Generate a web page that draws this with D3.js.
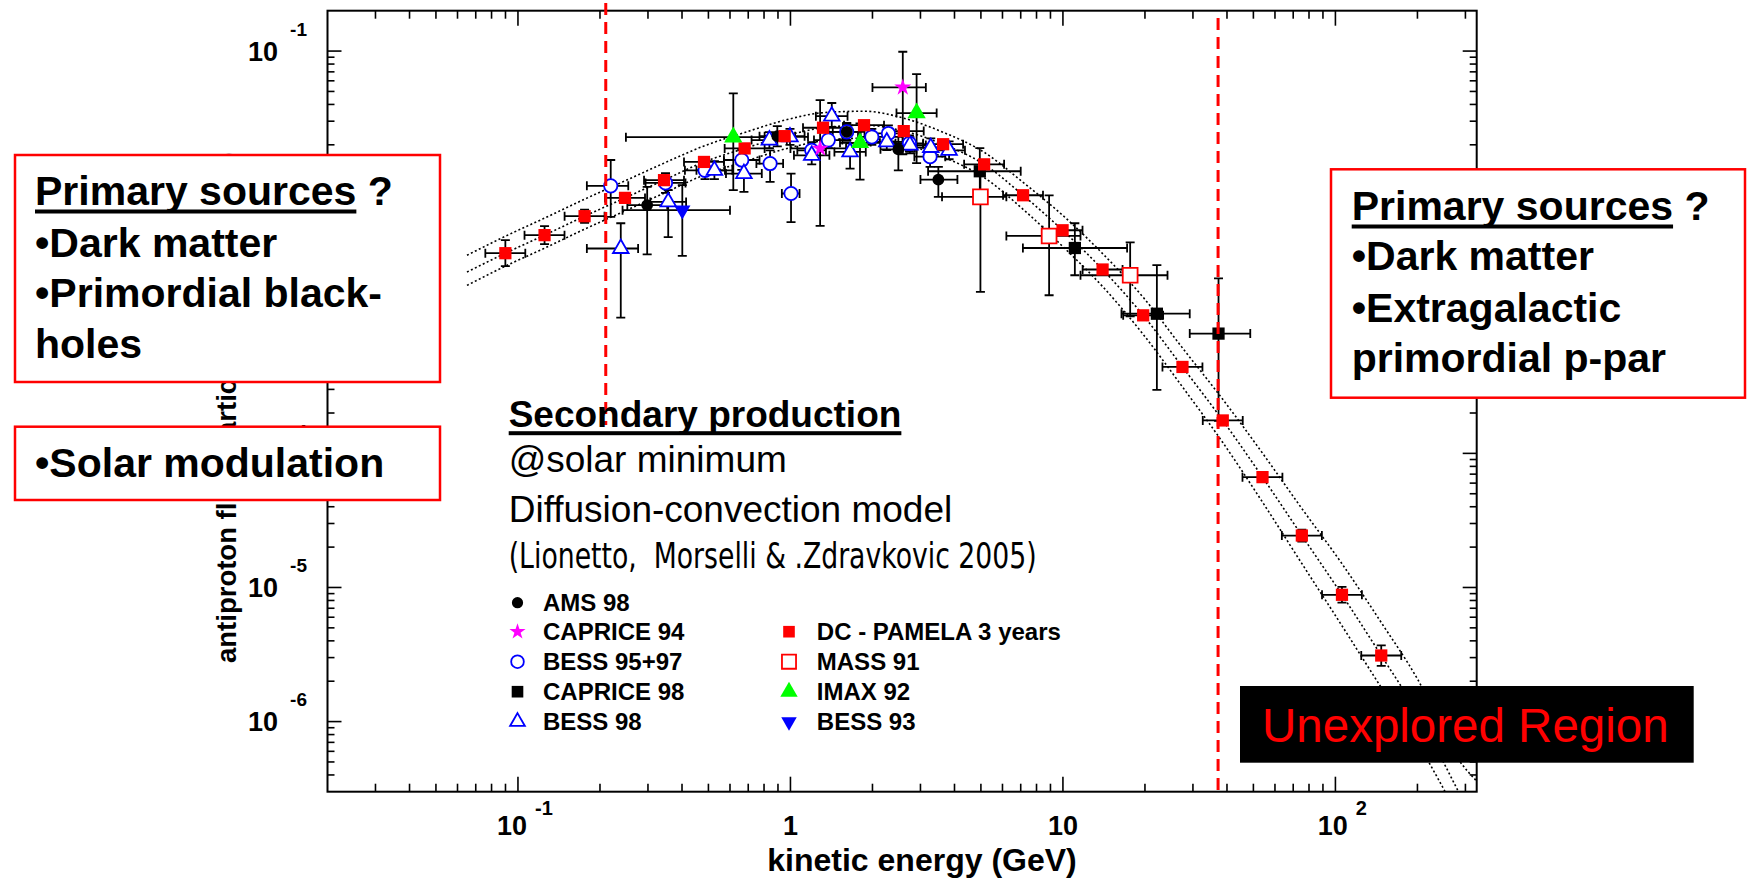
<!DOCTYPE html>
<html>
<head>
<meta charset="utf-8">
<script src="https://cdn.jsdelivr.net/npm/d3@7"></script>
<style>
  body { margin: 0; background: #fff; }
  svg { display: block; font-family: "Liberation Sans", Arial, Helvetica, sans-serif; }
</style>
</head>
<body>
<div id="chart"></div>
<script>
// rows: [energy GeV, flux, Emin, Emax, fluxMin, fluxMax]
const ams98 = [
  [0.298, 7.1e-3, 0.252, 0.353, 3.05e-3, 9.7e-3],
  [0.895, 2.32e-2, 0.77, 1.04, 1.95e-2, 2.76e-2],
  [1.609, 2.50e-2, 1.38, 1.87, 2.14e-2, 2.91e-2],
  [2.489, 1.85e-2, 2.14, 2.90, 1.29e-2, 2.29e-2],
  [3.49, 1.10e-2, 3.0, 4.1, 8.18e-3, 1.37e-2]
];
const caprice94 = [
  [1.285, 1.88e-2, 1.0, 1.6, 4.97e-3, 4.3e-2],
  [2.584, 5.36e-2, 2.0, 3.14, 1.7e-2, 9.88e-2]
];
const bess9597 = [
  [0.219, 9.88e-3, 0.179, 0.254, 5.8e-3, 1.54e-2],
  [0.348, 1.04e-2, 0.294, 0.412, 8.76e-3, 1.23e-2],
  [0.486, 1.29e-2, 0.41, 0.575, 1.11e-2, 1.51e-2],
  [0.663, 1.54e-2, 0.57, 0.77, 1.30e-2, 1.83e-2],
  [0.842, 1.45e-2, 0.75, 0.94, 1.06e-2, 1.82e-2],
  [1.005, 8.67e-3, 0.93, 1.08, 5.3e-3, 1.22e-2],
  [1.197, 1.82e-2, 1.06, 1.35, 1.59e-2, 2.09e-2],
  [1.377, 2.17e-2, 1.22, 1.55, 1.89e-2, 2.49e-2],
  [1.609, 2.50e-2, 1.43, 1.81, 2.18e-2, 2.87e-2],
  [1.989, 2.29e-2, 1.77, 2.24, 2.00e-2, 2.63e-2],
  [2.288, 2.43e-2, 2.03, 2.57, 2.12e-2, 2.79e-2],
  [2.733, 2.05e-2, 2.43, 3.07, 1.79e-2, 2.35e-2],
  [3.254, 1.63e-2, 2.85, 3.70, 1.37e-2, 1.93e-2]
];
const caprice98 = [
  [4.954, 1.27e-2, 3.2, 7.0, 8.4e-3, 1.89e-2],
  [11.06, 3.40e-3, 7.13, 17.2, 2.13e-3, 5.2e-3],
  [22.12, 1.10e-3, 16.4, 29.2, 2.98e-4, 2.53e-3],
  [37.24, 7.82e-4, 29.2, 48.7, 1.75e-4, 2.02e-3]
];
const bess98 = [
  [0.2384, 3.37e-3, 0.179, 0.276, 1.03e-3, 5.2e-3],
  [0.356, 7.5e-3, 0.306, 0.414, 4.1e-3, 9.18e-3],
  [0.526, 1.29e-2, 0.452, 0.612, 1.11e-2, 1.51e-2],
  [0.675, 1.22e-2, 0.58, 0.785, 8.9e-3, 1.54e-2],
  [0.837, 2.17e-2, 0.72, 0.97, 1.89e-2, 2.49e-2],
  [0.996, 2.29e-2, 0.86, 1.16, 2.00e-2, 2.63e-2],
  [1.197, 1.67e-2, 1.03, 1.39, 1.43e-2, 1.95e-2],
  [1.418, 3.27e-2, 1.24, 1.62, 2.72e-2, 4.1e-2],
  [1.655, 1.77e-2, 1.45, 1.89, 1.33e-2, 2.05e-2],
  [2.257, 2.10e-2, 1.97, 2.58, 1.83e-2, 2.41e-2],
  [2.744, 1.99e-2, 2.40, 3.14, 1.73e-2, 2.28e-2],
  [3.273, 1.91e-2, 2.86, 3.75, 1.64e-2, 2.23e-2],
  [3.821, 1.82e-2, 3.34, 4.37, 1.56e-2, 2.12e-2]
];
const pamela = [
  [0.0899, 3.11e-3, 0.0759, 0.1064, 2.49e-3, 3.89e-3],
  [0.1252, 4.24e-3, 0.1057, 0.1482, 3.63e-3, 4.95e-3],
  [0.1756, 5.87e-3, 0.1483, 0.2079, 5.24e-3, 6.57e-3],
  [0.2471, 8.04e-3, 0.2087, 0.2926, 7.38e-3, 8.76e-3],
  [0.3436, 1.09e-2, 0.2902, 0.4068, 1.02e-2, 1.17e-2],
  [0.4817, 1.49e-2, 0.4068, 0.5703, 1.41e-2, 1.57e-2],
  [0.679, 1.88e-2, 0.5735, 0.8039, 1.79e-2, 1.98e-2],
  [0.952, 2.32e-2, 0.804, 1.127, 2.21e-2, 2.44e-2],
  [1.317, 2.68e-2, 1.112, 1.559, 2.55e-2, 2.82e-2],
  [1.862, 2.80e-2, 1.573, 2.205, 2.66e-2, 2.95e-2],
  [2.605, 2.53e-2, 2.200, 3.084, 2.41e-2, 2.66e-2],
  [3.633, 2.02e-2, 3.068, 4.301, 1.92e-2, 2.12e-2],
  [5.137, 1.43e-2, 4.339, 6.082, 1.36e-2, 1.50e-2],
  [7.14, 8.41e-3, 6.03, 8.45, 8.0e-3, 8.84e-3],
  [9.97, 4.61e-3, 8.42, 11.80, 4.39e-3, 4.85e-3],
  [13.98, 2.35e-3, 11.81, 16.55, 2.24e-3, 2.47e-3],
  [19.70, 1.07e-3, 16.64, 23.32, 1.02e-3, 1.12e-3],
  [27.46, 4.41e-4, 23.19, 32.51, 4.20e-4, 4.63e-4],
  [38.6, 1.76e-4, 32.6, 45.7, 1.66e-4, 1.87e-4],
  [54.0, 6.65e-5, 45.6, 63.9, 6.1e-5, 7.25e-5],
  [75.3, 2.44e-5, 63.6, 89.2, 2.2e-5, 2.7e-5],
  [105.7, 8.82e-6, 89.3, 125.1, 7.7e-6, 1.01e-5],
  [147.3, 3.11e-6, 124.4, 174.4, 2.6e-6, 3.7e-6]
];
const mass91 = [
  [4.98, 8.18e-3, 3.6, 6.2, 1.6e-3, 1.3e-2],
  [8.898, 4.18e-3, 6.2, 11.6, 1.51e-3, 8.4e-3],
  [17.65, 2.13e-3, 11.6, 24.2, 1.05e-3, 3.75e-3]
];
const imax92 = [
  [0.617, 2.28e-2, 0.249, 0.834, 9.2e-3, 4.83e-2],
  [1.80, 2.07e-2, 1.52, 2.13, 1.10e-2, 2.89e-2],
  [2.904, 3.45e-2, 2.45, 3.44, 1.46e-2, 6.73e-2]
];
const bess93 = [
  [0.401, 6.51e-3, 0.242, 0.600, 2.97e-3, 1.0e-2]
];

// diffusion-convection model band (central, upper, lower)
const modelE = [0.065, 0.0899, 0.1252, 0.1756, 0.2471, 0.3436, 0.4817, 0.679, 0.952, 1.317, 1.862, 2.605, 3.633, 5.137, 7.14, 9.97, 13.98, 19.70, 27.46, 38.6, 54.0, 75.3, 105.7, 147.3, 200, 283, 330];
const modelMid = [2.25e-3, 3.11e-3, 4.24e-3, 5.87e-3, 8.04e-3, 1.09e-2, 1.49e-2, 1.88e-2, 2.32e-2, 2.68e-2, 2.80e-2, 2.53e-2, 2.02e-2, 1.43e-2, 8.41e-3, 4.61e-3, 2.35e-3, 1.07e-3, 4.41e-4, 1.76e-4, 6.65e-5, 2.44e-5, 8.82e-6, 3.11e-6, 1.16e-6, 3.0e-7, 1.64e-7];
const modelHigh = [3.00e-3, 4.16e-3, 5.68e-3, 7.86e-3, 1.077e-2, 1.46e-2, 1.96e-2, 2.47e-2, 3.05e-2, 3.47e-2, 3.56e-2, 3.16e-2, 2.48e-2, 1.76e-2, 1.05e-2, 5.97e-3, 3.09e-3, 1.458e-3, 6.11e-4, 2.53e-4, 1.004e-4, 3.88e-5, 1.503e-5, 5.48e-6, 2.08e-6, 5.2e-7, 3.6e-7];
const modelLow = [1.79e-3, 2.49e-3, 3.39e-3, 4.70e-3, 6.43e-3, 8.72e-3, 1.19e-2, 1.50e-2, 1.86e-2, 2.14e-2, 2.24e-2, 2.02e-2, 1.62e-2, 1.14e-2, 6.61e-3, 3.50e-3, 1.755e-3, 7.72e-4, 3.13e-4, 1.206e-4, 4.33e-5, 1.508e-5, 5.18e-6, 1.795e-6, 6.93e-7, 1.92e-7, 1.0e-7];

// red dashed energy limits
const cutE = [0.21, 37.1];

const xTickVals = [0.1, 1, 10, 100];
const xTickBase = ['10', '1', '10', '10'];
const xTickExp = ['-1', '', '', '2'];
const yTickVals = [1e-1, 1e-2, 1e-3, 1e-4, 1e-5, 1e-6];
const yTickExp = ['-1', '-2', '-3', '-4', '-5', '-6'];

const legendNames = ['AMS 98', 'CAPRICE 94', 'BESS 95+97', 'CAPRICE 98', 'BESS 98',
                     'DC - PAMELA 3 years', 'MASS 91', 'IMAX 92', 'BESS 93'];

const W = 1747, H = 879;

const svg = d3.select('#chart').append('svg')
  .attr('width', W).attr('height', H);

svg.append('rect').attr('width', W).attr('height', H).attr('fill', '#fff');

const x = d3.scaleLog().domain([0.02, 330]).range([327.5, 1476.7]);
const y = d3.scaleLog().domain([3e-7, 0.2]).range([791.7, 10.7]);
const [xl, xr] = x.range();
const [yb, yt] = y.range();

svg.append('clipPath').attr('id', 'plotClip')
  .append('rect').attr('x', xl).attr('y', yt).attr('width', xr - xl).attr('height', yb - yt);

const isMajor = v => Math.abs(Math.log10(v) - Math.round(Math.log10(v))) < 1e-6;

// ticks on all four sides, pointing inwards
const xt = x.ticks().filter(v => v > 0.0201 && v < 330);
const yTicks = y.ticks().filter(v => v > 3.01e-7 && v < 0.2);
const tickG = svg.append('g').attr('stroke', '#000').attr('stroke-width', 1.6);
tickG.selectAll('.xb').data(xt).join('line').attr('class', 'xb')
  .attr('x1', d => x(d)).attr('x2', d => x(d))
  .attr('y1', yb).attr('y2', d => yb - (isMajor(d) ? 15 : 8));
tickG.selectAll('.xt').data(xt).join('line').attr('class', 'xt')
  .attr('x1', d => x(d)).attr('x2', d => x(d))
  .attr('y1', yt).attr('y2', d => yt + (isMajor(d) ? 15 : 8));
tickG.selectAll('.yl').data(yTicks).join('line').attr('class', 'yl')
  .attr('y1', d => y(d)).attr('y2', d => y(d))
  .attr('x1', xl).attr('x2', d => xl + (isMajor(d) ? 14 : 7));
tickG.selectAll('.yr').data(yTicks).join('line').attr('class', 'yr')
  .attr('y1', d => y(d)).attr('y2', d => y(d))
  .attr('x1', xr).attr('x2', d => xr - (isMajor(d) ? 14 : 7));

svg.append('rect')
  .attr('x', xl).attr('y', yt).attr('width', xr - xl).attr('height', yb - yt)
  .attr('fill', 'none').attr('stroke', '#000').attr('stroke-width', 2);

// tick labels (labels with an exponent sit a little right of the tick)
const xLab = svg.selectAll('.xlab').data(xTickVals).join('text').attr('class', 'xlab')
  .attr('x', (d, i) => x(d) + (xTickExp[i] ? 7 : 0)).attr('y', 835)
  .attr('text-anchor', 'middle')
  .attr('font-weight', 'bold').attr('font-size', 27);
xLab.append('tspan').text((d, i) => xTickBase[i]);
xLab.append('tspan').text((d, i) => xTickExp[i])
  .attr('dx', (d, i) => xTickExp[i] ? 8 : 0).attr('dy', -20).attr('font-size', 20);

const yLab = svg.selectAll('.ylab').data(yTickVals).join('text').attr('class', 'ylab')
  .attr('x', 307).attr('y', d => y(d) + 9.5)
  .attr('text-anchor', 'end')
  .attr('font-weight', 'bold').attr('font-size', 27);
yLab.append('tspan').text('10');
yLab.append('tspan').text((d, i) => yTickExp[i])
  .attr('dx', 12).attr('dy', -25).attr('font-size', 19);

// axis titles
svg.append('text')
  .attr('x', 922).attr('y', 871).attr('text-anchor', 'middle')
  .attr('font-weight', 'bold').attr('font-size', 32)
  .text('kinetic energy (GeV)');

const yTitle = svg.append('text')
  .attr('transform', 'translate(236,663) rotate(-90)')
  .attr('font-weight', 'bold').attr('font-size', 27.5);
yTitle.append('tspan').text('antiproton flux (particles/(m');
yTitle.append('tspan').text('2').attr('font-size', 17).attr('dy', -10);
yTitle.append('tspan').text(' sr s GeV))').attr('dy', 10);

// model curves
const line = d3.line().x(d => x(d[0])).y(d => y(d[1])).curve(d3.curveMonotoneX);
[modelHigh, modelMid, modelLow].forEach(arr => {
  svg.append('path')
    .datum(modelE.map((e, i) => [e, arr[i]]))
    .attr('clip-path', 'url(#plotClip)')
    .attr('fill', 'none').attr('stroke', '#000')
    .attr('stroke-width', 1.6).attr('stroke-dasharray', '2,2.4')
    .attr('d', line);
});

// series styles
const series = [
  { rows: bess9597, sym: d3.symbolCircle, size: 140, fill: '#fff', stroke: '#0000ff' },
  { rows: bess98, sym: d3.symbolTriangle, size: 105, fill: '#fff', stroke: '#0000ff' },
  { rows: ams98, sym: d3.symbolCircle, size: 110, fill: '#000', stroke: 'none' },
  { rows: caprice98, sym: d3.symbolSquare, size: 150, fill: '#000', stroke: 'none' },
  { rows: mass91, sym: d3.symbolSquare, size: 220, fill: '#fff', stroke: '#ff0000' },
  { rows: caprice94, sym: d3.symbolStar, size: 90, fill: '#ff00ff', stroke: 'none' },
  { rows: bess93, sym: d3.symbolTriangle, size: 115, fill: '#0000ff', stroke: 'none', rot: 180 },
  { rows: pamela, sym: d3.symbolSquare, size: 150, fill: '#ff0000', stroke: 'none' },
  { rows: imax92, sym: d3.symbolTriangle, size: 145, fill: '#00ff00', stroke: 'none' }
];

const cap = 4.5;
function errPath(r) {
  const cx = x(r[0]), cy = y(r[1]);
  const xa = x(r[2]), xb = x(r[3]), ya = y(r[4]), yb2 = y(r[5]);
  return `M${xa},${cy}H${xb}` +
    `M${xa},${cy - cap}V${cy + cap}M${xb},${cy - cap}V${cy + cap}` +
    `M${cx},${ya}V${yb2}` +
    `M${cx - cap},${ya}H${cx + cap}M${cx - cap},${yb2}H${cx + cap}`;
}

const errG = svg.append('g').attr('clip-path', 'url(#plotClip)')
  .attr('fill', 'none').attr('stroke', '#000').attr('stroke-width', 1.8);
series.forEach(s => {
  errG.append('g').selectAll('path').data(s.rows).join('path').attr('d', errPath);
});

const markG = svg.append('g');
series.forEach(s => {
  markG.append('g').selectAll('path').data(s.rows).join('path')
    .attr('transform', r => `translate(${x(r[0])},${y(r[1])})` + (s.rot ? ` rotate(${s.rot})` : ''))
    .attr('d', d3.symbol(s.sym, s.size))
    .attr('fill', s.fill)
    .attr('stroke', s.stroke).attr('stroke-width', 1.8);
});

// red dashed limits
svg.selectAll('.cut').data(cutE).join('line').attr('class', 'cut')
  .attr('x1', d => x(d)).attr('x2', d => x(d))
  .attr('y1', (d, i) => i === 0 ? 3 : 18)
  .attr('y2', (d, i) => i === 0 ? 425 : yb)
  .attr('stroke', '#ff0000').attr('stroke-width', 3)
  .attr('stroke-dasharray', '12,7');

// annotation: secondary production
function underlined(g, tx, ty, str, size, tail) {
  const t = g.append('text').attr('x', tx).attr('y', ty)
    .attr('font-weight', 'bold').attr('font-size', size).text(str);
  const w = t.node().getComputedTextLength();
  g.append('rect').attr('x', tx).attr('y', ty + 4.5).attr('width', w).attr('height', 4).attr('fill', '#000');
  if (tail) {
    g.append('text').attr('x', tx + w).attr('y', ty)
      .attr('font-weight', 'bold').attr('font-size', size)
      .attr('xml:space', 'preserve').style('white-space', 'pre').text(tail);
  }
}

const noteG = svg.append('g');
underlined(noteG, 508.7, 426.7, 'Secondary production', 37);
noteG.append('text').attr('x', 508.7).attr('y', 471.7).attr('font-size', 37).text('@solar minimum');
noteG.append('text').attr('x', 508.7).attr('y', 521.7).attr('font-size', 37).text('Diffusion-convection model');
noteG.append('text').attr('x', 508.7).attr('y', 568.3)
  .attr('font-family', '"Liberation Sans Narrow", "Arial Narrow", "DejaVu Sans Condensed", sans-serif')
  .attr('font-size', 35)
  .attr('textLength', 528).attr('lengthAdjust', 'spacingAndGlyphs')
  .style('white-space', 'pre')
  .text('(Lionetto,  Morselli & .Zdravkovic 2005)');

// legend
const legX = [517.5, 789], legTextX = [543, 816.8];
const legRowY = [602.7, 631.7, 661.7, 691.7, 721.7];
const legStyle = [series[2], series[5], series[0], series[3], series[1], series[7], series[4], series[8], series[6]];
const legPos = legendNames.map((n, i) => i < 5 ? [0, i] : [1, i - 4]);
const legG = svg.append('g');
legG.selectAll('path').data(legendNames).join('path')
  .attr('transform', (d, i) => `translate(${legX[legPos[i][0]]},${legRowY[legPos[i][1]]})` + (legStyle[i].rot ? ` rotate(${legStyle[i].rot})` : ''))
  .attr('d', (d, i) => d3.symbol(legStyle[i].sym, legStyle[i].size * 0.9)())
  .attr('fill', (d, i) => legStyle[i].fill)
  .attr('stroke', (d, i) => legStyle[i].stroke).attr('stroke-width', 1.8);
legG.selectAll('text').data(legendNames).join('text')
  .attr('x', (d, i) => legTextX[legPos[i][0]])
  .attr('y', (d, i) => legRowY[legPos[i][1]] + 8.5)
  .attr('font-weight', 'bold').attr('font-size', 24)
  .text(d => d);

// boxed notes
function box(bx, by, bw, bh) {
  svg.append('rect').attr('x', bx).attr('y', by).attr('width', bw).attr('height', bh)
    .attr('fill', '#fff').attr('stroke', '#ff0000').attr('stroke-width', 2.5);
}
function bold(tx, ty, str) {
  svg.append('text').attr('x', tx).attr('y', ty)
    .attr('font-weight', 'bold').attr('font-size', 41).text(str);
}

box(15, 155, 425, 227);
underlined(svg, 35, 205, 'Primary sources', 41, ' ?');
bold(35, 256.7, '\u2022Dark matter');
bold(35, 306.7, '\u2022Primordial black-');
bold(35, 358.3, 'holes');

box(15, 426.7, 425, 73.3);
bold(35, 477, '\u2022Solar modulation');

box(1331, 169.3, 414, 228.4);
underlined(svg, 1351.7, 220, 'Primary sources', 41, ' ?');
bold(1351.7, 270, '\u2022Dark matter');
bold(1351.7, 321.7, '\u2022Extragalactic');
bold(1351.7, 371.7, 'primordial p-par');

// unexplored region label
svg.append('rect').attr('x', 1240).attr('y', 686).attr('width', 453.7).attr('height', 76.7).attr('fill', '#000');
svg.append('text').attr('x', 1262).attr('y', 741.7)
  .attr('font-size', 47.5).attr('fill', '#ff0000')
  .text('Unexplored Region');
</script>
</body>
</html>
